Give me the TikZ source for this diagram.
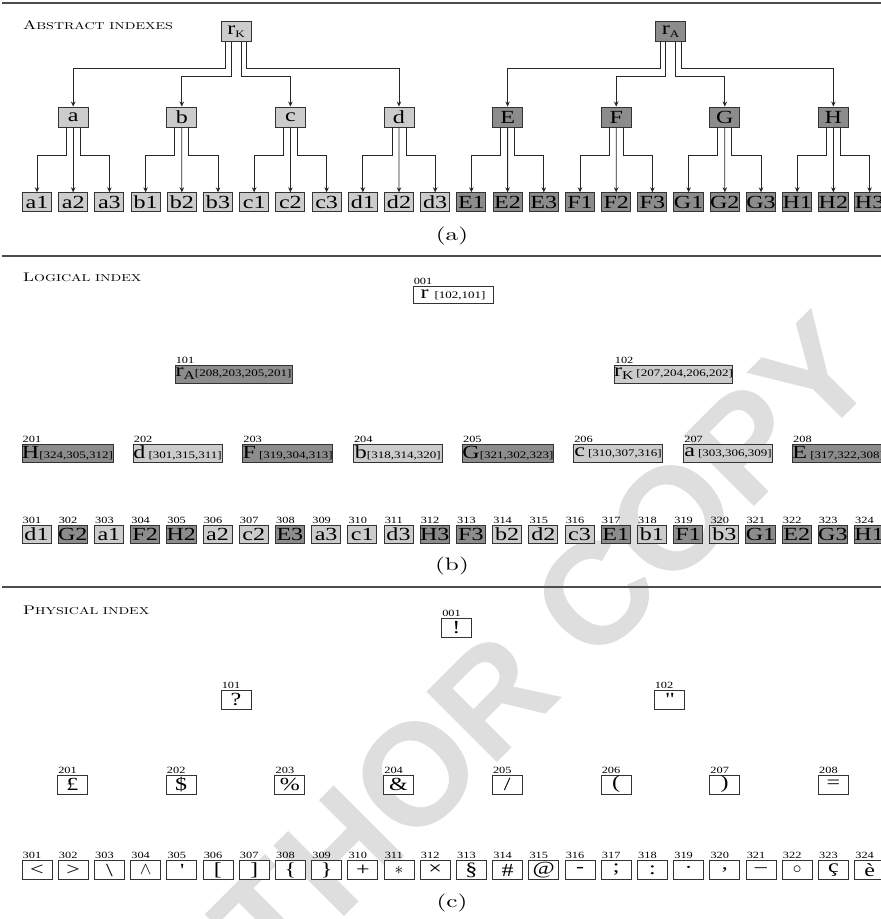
\documentclass[tikz,border=0pt]{standalone}
\usepackage{fontspec}
\usetikzlibrary{arrows.meta}
\newfontfamily\boxfont{Liberation Serif}[FakeStretch=1.3]
\newfontfamily\capfont{lmroman10-regular.otf}[FakeStretch=1.4]
\newfontfamily\markfont{Liberation Sans}
\definecolor{boxl}{gray}{0.8}
\definecolor{boxd}{gray}{0.55}
\definecolor{rulegray}{gray}{0.3}
\definecolor{markgray}{gray}{0.87}
% small caps by hand, list of children, subscript
\newcommand{\sctitle}[2]{{\fontsize{12.5}{13}\selectfont #1}{\fontsize{10}{11}\selectfont #2}}
\newcommand{\lst}[1]{{\fontsize{10}{10}\selectfont[#1]}}
\newcommand{\rsub}[2]{\raisebox{-3pt}{\fontsize{#1}{#1}\selectfont #2}}
\tikzset{
  abox/.style={draw=black!80, line width=0.9pt, inner sep=0pt, font=\boxfont\fontsize{18.5}{18.5}\selectfont},
  inner/.style={abox, minimum width=30pt, minimum height=20pt},
  leaf/.style={abox, minimum width=29pt, minimum height=18.5pt},
  lbox/.style={abox, minimum height=18pt},
  pbox/.style={abox, fill=white, minimum width=30pt, minimum height=19pt},
  idx/.style={label={[anchor=south west, inner sep=1pt, font=\boxfont\fontsize{9.5}{9.5}\selectfont]north west:#1}},
  conn/.style={draw=black!85, line width=0.8pt, -{Stealth[length=5pt,width=4.5pt]}},
  rulel/.style={rulegray, line width=1.3pt},
  sectitle/.style={anchor=base west, inner sep=0pt, font=\capfont},
  subcap/.style={inner sep=0pt, font=\capfont\fontsize{18}{18}\selectfont},
  wmark/.style={markgray, rotate=45, font=\markfont\bfseries\fontsize{145}{145}\selectfont}
}
\begin{document}
\begin{tikzpicture}[x=1pt, y=-1pt]
    \useasboundingbox (0,0) rectangle (881,919);
    \node[wmark] (wm) at (470,720) {AUTHOR COPY};

    % section rules
    \draw[rulel] (2,3) -- (881,3);
    \draw[rulel] (2,256) -- (881,256);
    \draw[rulel] (2,587) -- (881,587);

    % (a) abstract indexes
    \node[sectitle] (tA) at (23,29) {\sctitle{A}{BSTRACT INDEXES}};
    \node[inner, fill=boxl] (rK) at (236,31.5) {r\rsub{10}{K}};
    \node[inner, fill=boxd] (rA) at (670.5,31.5) {r\rsub{10}{A}};
    \foreach \grp/\c/\j in {{a,b,c,d}/l/0,{E,F,G,H}/d/4} {
        \foreach \g [count=\i from \j] in \grp {
            \node[inner, fill=box\c] (\g) at ({73.2+108.6*\i},117) {\g};
            \foreach \k in {1,2,3}
                \node[leaf, fill=box\c] (\g\k) at ({37+36.2*(3*\i+\k-1)},202) {\g\k};
            \draw[conn] ([xshift=-7pt]\g.south) -- ++(0,28) -| (\g1.north);
            \draw[conn] (\g.south) -- (\g2.north);
            \draw[conn] ([xshift=7pt]\g.south) -- ++(0,28) -| (\g3.north);
        }
    }
    \foreach \r/\s/\t/\u/\v in {rK/a/b/c/d, rA/E/F/G/H} {
        \draw[conn] ([xshift=-10.5pt]\r.south) -- ++(0,26.5) -| (\s.north);
        \draw[conn] ([xshift=-5pt]\r.south) -- ++(0,34.5) -| (\t.north);
        \draw[conn] ([xshift=5pt]\r.south) -- ++(0,34.5) -| (\u.north);
        \draw[conn] ([xshift=10.5pt]\r.south) -- ++(0,26.5) -| (\v.north);
    }
    \node[subcap] (capA) at (452,235.5) {(a)};

    % (b) logical index
    \node[sectitle] (tB) at (23,281.5) {\sctitle{L}{OGICAL INDEX}};
    \node[lbox, idx=001, fill=white, minimum width=80pt, minimum height=17pt] (L001) at (453,294.5) {r \lst{102,101}};
    \node[lbox, idx=101, fill=boxd, minimum width=117pt] (L101) at (233.5,374) {r\rsub{12}{A}\lst{208,203,205,201}};
    \node[lbox, idx=102, fill=boxl, minimum width=117pt] (L102) at (673.5,374) {r\rsub{12}{K}\,\lst{207,204,206,202}};
    \foreach \n/\t/\l/\c [count=\i from 0] in {201/H/{324,305,312}/d, 202/d\,/{301,315,311}/l,
            203/F\,/{319,304,313}/d, 204/b/{318,314,320}/l, 205/G/{321,302,323}/d,
            206/c\,/{310,307,316}/l, 207/a\,/{303,306,309}/l, 208/E\,/{317,322,308}/d}
        \node[lbox, idx=\n, fill=box\c, minimum width=89pt] (L\n) at ({67.5+110.1*\i},453) {\t\lst{\l}};
    \foreach \t/\c [count=\i from 0] in {d1/l,G2/d,a1/l,F2/d,H2/d,a2/l,c2/l,E3/d,a3/l,c1/l,d3/l,H3/d,
            F3/d,b2/l,d2/l,c3/l,E1/d,b1/l,F1/d,b3/l,G1/d,E2/d,G3/d,H1/d} {
        \pgfmathtruncatemacro{\n}{301+\i}
        \node[lbox, idx=\n, fill=box\c, minimum width=29pt] (L\n) at ({36.5+36.2*\i},534) {\t};
    }
    \node[subcap] (capB) at (452,566) {(b)};

    % (c) physical index
    \node[sectitle] (tC) at (23,614) {\sctitle{P}{HYSICAL INDEX}};
    \node[pbox, idx=001] (P001) at (456.5,627.5) {!};
    \node[pbox, idx=101] (P101) at (236,699.5) {?};
    \node[pbox, idx=102] (P102) at (669,699.5) {\textquotedbl};
    \foreach \s [count=\i from 0] in {£,\$,\%,\&,{/},{(},{)},=} {
        \pgfmathtruncatemacro{\n}{201+\i}
        \node[pbox, idx=\n] (P\n) at ({72.5+108.7*\i},784.5) {\s};
    }
    \foreach \s [count=\i from 0] in {<,>,\textbackslash,$\wedge$,\textquotesingle,{[},{]},\{,\},+,$\ast$,×,
            §,\#,@,-,;,:,·,{,},–,$\circ$,ç,è} {
        \pgfmathtruncatemacro{\n}{301+\i}
        \node[pbox, idx=\n] (P\n) at ({37+36.2*\i},870) {\s};
    }
    \node[subcap] (capC) at (452,903) {(c)};
\end{tikzpicture}
\end{document}
